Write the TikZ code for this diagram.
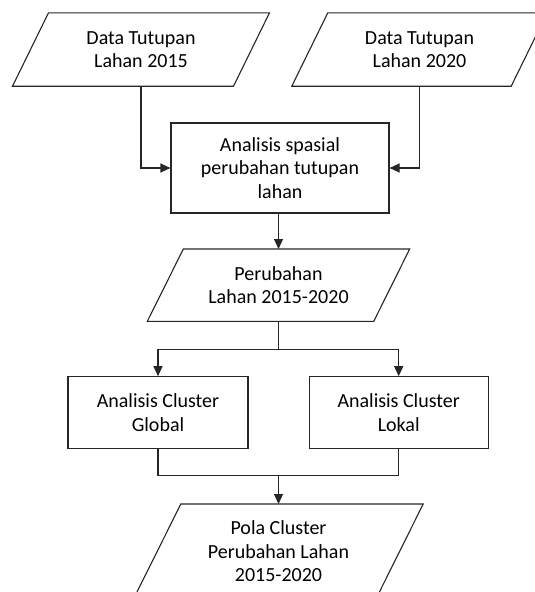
\documentclass[tikz,border=0pt]{standalone}
\usepackage{fontspec}
\setmainfont{Carlito}
\usetikzlibrary{arrows.meta}
\begin{document}
\begin{tikzpicture}[x=1pt,y=-1pt,
  ln/.style={line width=1.1pt, draw=black!85},
  arr/.style={ln, -{Triangle[length=10pt,width=9pt]}},
  txt/.style={font=\fontsize{20}{23.5}\selectfont, align=center, inner sep=0pt},
  box/.style={txt, draw=black!85, line width=1.1pt},
  io/.style={txt}]

\useasboundingbox (0,0) rectangle (535,592);

% input / output parallelograms (nodes = bounding rectangles)
\node[io, minimum width=256.6pt, minimum height=73pt] (d1) at (141,49.5) {Data Tutupan\\Lahan 2015};
\node[io, minimum width=255pt, minimum height=73pt] (d2) at (419.5,49.5) {Data Tutupan\\Lahan 2020};
\node[io, minimum width=262pt, minimum height=72pt] (pr) at (278.5,285.2) {Perubahan\\Lahan 2015-2020};
\node[io, minimum width=289pt, minimum height=94pt] (pola) at (278.5,551.2) {Pola Cluster\\Perubahan Lahan\\2015-2020};

\foreach \n/\s in {d1/36,d2/36,pr/36,pola/47}
  \draw[ln] ([xshift=\s pt]\n.north west) -- (\n.north east) -- ([xshift=-\s pt]\n.south east) -- (\n.south west) -- cycle;

% process boxes
\node[box, minimum width=218pt, minimum height=90pt] (b1) at (280,168) {Analisis spasial\\perubahan tutupan\\lahan};
\node[box, minimum width=180pt, minimum height=71.5pt] (gl) at (158,412.5) {Analisis Cluster\\Global};
\node[box, minimum width=179pt, minimum height=71.5pt] (lk) at (398.7,412.5) {Analisis Cluster\\Lokal};

% connectors
\draw[arr] (d1.south) |- (b1.west);
\draw[arr] (d2.south) |- (b1.east);
\draw[arr] (b1.south -| pr.north) -- (pr.north);

\coordinate (split) at ([yshift=-28pt]pr.south);
\draw[ln] (pr.south) -- (split);
\draw[arr] (split) -| (gl.north);
\draw[arr] (split) -| (lk.north);

\coordinate (merge) at ([yshift=28.5pt]pola.north);
\draw[ln] (gl.south) |- (merge);
\draw[ln] (lk.south) |- (merge);
\draw[arr] (merge) -- (pola.north);
\end{tikzpicture}
\end{document}
